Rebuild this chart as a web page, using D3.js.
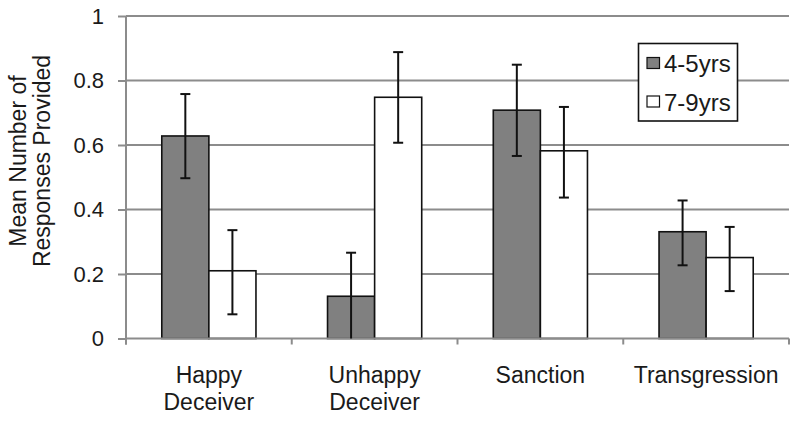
<!DOCTYPE html>
<html>
<head>
<meta charset="utf-8">
<script src="https://cdn.jsdelivr.net/npm/d3@7"></script>
<style>
  html, body { margin: 0; padding: 0; background: #fff; }
  svg { display: block; font-family: "Liberation Sans", Arial, sans-serif; }
</style>
</head>
<body>
<svg id="chart" width="800" height="425"></svg>
<script>
const categories = [["Happy", "Deceiver"], ["Unhappy", "Deceiver"], ["Sanction"], ["Transgression"]];
const seriesNames = ["4-5yrs", "7-9yrs"];
const values45 = [0.628, 0.131, 0.708, 0.331];
const values79 = [0.210, 0.748, 0.582, 0.251];
const upper45 = [0.758, 0.266, 0.849, 0.428];
const lower45 = [0.497, 0.0, 0.566, 0.227];
const upper79 = [0.336, 0.888, 0.718, 0.346];
const lower79 = [0.075, 0.607, 0.437, 0.147];
const yTicks = [0, 0.2, 0.4, 0.6, 0.8, 1];
const yTickLabels = ["0", "0.2", "0.4", "0.6", "0.8", "1"];
const yTitle = ["Mean Number of", "Responses Provided"];

const svg = d3.select("#chart");
const pLeft = 126, pRight = 789, pTop = 16, pBottom = 338.5;
const catKeys = categories.map(c => c.join(" "));
const x0 = d3.scaleBand().domain(catKeys).range([pLeft, pRight]).padding(0);
const x1 = d3.scaleBand().domain(seriesNames).range([0, x0.bandwidth()]).paddingInner(0).paddingOuter(0.76);
const y = d3.scaleLinear().domain([0, 1]).range([pBottom, pTop]);

const gridColor = "#8c8c8c";

// gridlines
svg.append("g").selectAll("line").data(yTicks.filter(v => v > 0)).join("line")
  .attr("x1", pLeft).attr("x2", pRight)
  .attr("y1", d => y(d)).attr("y2", d => y(d))
  .attr("stroke", gridColor).attr("stroke-width", 2);

// y axis
const yAxis = d3.axisLeft(y).tickValues(yTicks).tickFormat((d, i) => yTickLabels[i]).tickSize(8).tickPadding(14);
const gy = svg.append("g").attr("transform", `translate(${pLeft},0)`).call(yAxis);
gy.select(".domain").attr("stroke", gridColor).attr("stroke-width", 2).attr("d", `M0,${pTop}V${pBottom + 6}`);
gy.selectAll(".tick line").attr("stroke", gridColor).attr("stroke-width", 2);
gy.selectAll(".tick text").attr("font-size", 22).attr("fill", "#1a1a1a")
  .attr("font-family", "Liberation Sans, Arial, sans-serif");

// x axis ticks at category boundaries
const boundaries = catKeys.map(k => x0(k)).concat([pRight]);
svg.append("g").selectAll("line").data(boundaries).join("line")
  .attr("x1", d => d).attr("x2", d => d)
  .attr("y1", pBottom).attr("y2", pBottom + 6)
  .attr("stroke", gridColor).attr("stroke-width", 2);

// bars
const data = [];
catKeys.forEach((k, i) => {
  data.push({cat: k, s: seriesNames[0], v: values45[i], hi: upper45[i], lo: lower45[i], fill: "#808080"});
  data.push({cat: k, s: seriesNames[1], v: values79[i], hi: upper79[i], lo: lower79[i], fill: "#ffffff"});
});

svg.append("g").selectAll("rect").data(data).join("rect")
  .attr("x", d => x0(d.cat) + x1(d.s))
  .attr("y", d => y(d.v))
  .attr("width", x1.bandwidth())
  .attr("height", d => y(0) - y(d.v))
  .attr("fill", d => d.fill)
  .attr("stroke", "#111").attr("stroke-width", 1.6);

svg.append("line").attr("x1", pLeft).attr("x2", pRight).attr("y1", pBottom).attr("y2", pBottom)
  .attr("stroke", gridColor).attr("stroke-width", 2);

// error bars
const eg = svg.append("g").attr("stroke", "#111").attr("stroke-width", 2);
data.forEach(d => {
  const cx = x0(d.cat) + x1(d.s) + x1.bandwidth() / 2;
  eg.append("line").attr("x1", cx).attr("x2", cx).attr("y1", y(d.hi)).attr("y2", y(d.lo));
  eg.append("line").attr("x1", cx - 5).attr("x2", cx + 5).attr("y1", y(d.hi)).attr("y2", y(d.hi));
  if (d.lo > 0) eg.append("line").attr("x1", cx - 5).attr("x2", cx + 5).attr("y1", y(d.lo)).attr("y2", y(d.lo));
});

// x labels
const xl = svg.append("g").attr("font-size", 23).attr("fill", "#1a1a1a").attr("text-anchor", "middle");
categories.forEach((lines, i) => {
  const cx = x0(catKeys[i]) + x0.bandwidth() / 2;
  lines.forEach((t, j) => {
    xl.append("text").attr("x", cx).attr("y", 382.5 + j * 27).text(t);
  });
});

// y title
const yt = svg.append("g").attr("transform", "translate(0,161) rotate(-90)")
  .attr("font-size", 23).attr("fill", "#1a1a1a").attr("text-anchor", "middle");
yTitle.forEach((t, j) => {
  yt.append("text").attr("x", 0).attr("y", 26 + j * 24).text(t);
});

// legend
const lg = svg.append("g");
lg.append("rect").attr("x", 638.5).attr("y", 43.5).attr("width", 99).attr("height", 77.5)
  .attr("fill", "#fff").attr("stroke", "#111").attr("stroke-width", 1.6);
const fills = ["#808080", "#ffffff"];
seriesNames.forEach((s, i) => {
  const yy = 57.5 + i * 38.5;
  lg.append("rect").attr("x", 647).attr("y", yy).attr("width", 12.5).attr("height", 11)
    .attr("fill", fills[i]).attr("stroke", "#111").attr("stroke-width", 1.2);
  lg.append("text").attr("x", 664).attr("y", yy + 14.5).attr("font-size", 24).attr("fill", "#1a1a1a").text(s);
});
</script>
</body>
</html>
